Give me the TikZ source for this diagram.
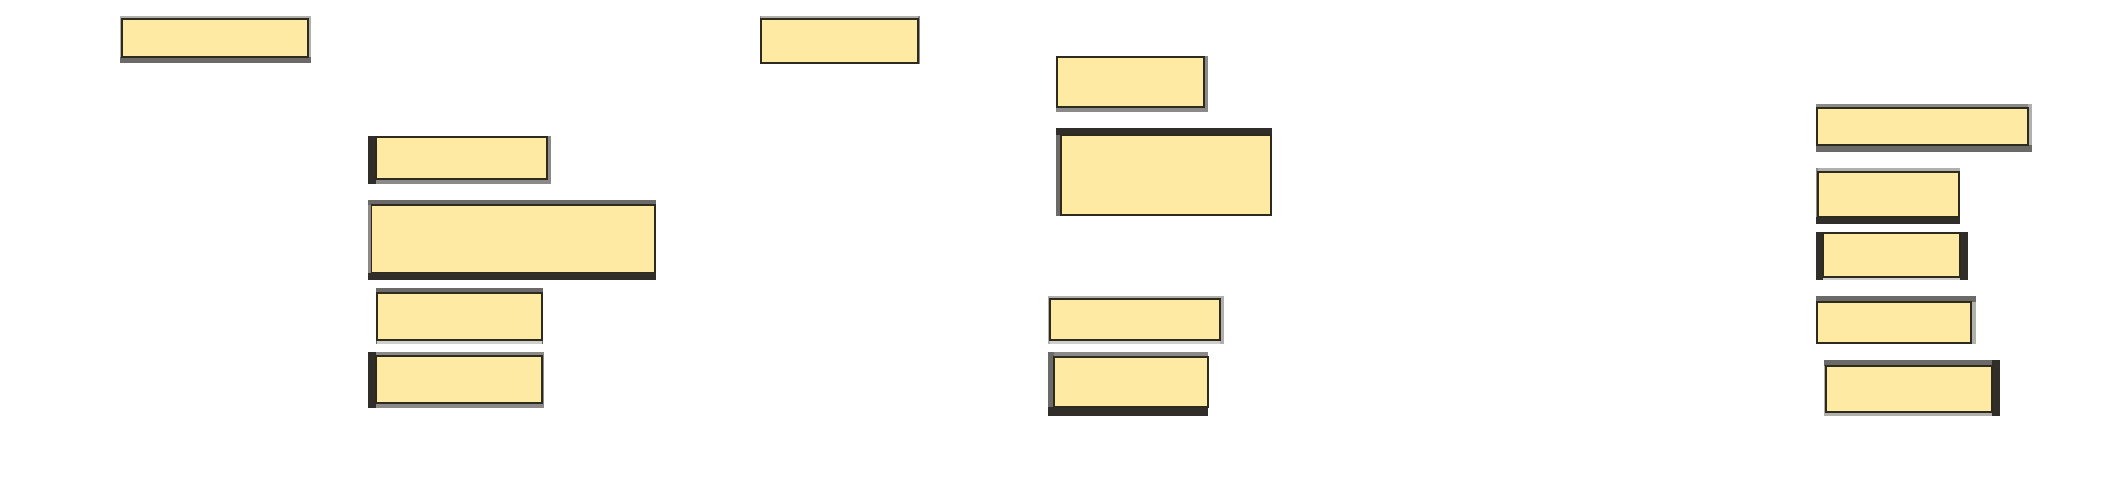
\documentclass[tikz,border=0pt]{standalone}
\usetikzlibrary{fit}
\definecolor{yfill}{HTML}{FEEAA3}
\definecolor{yline}{HTML}{2D2A1E}
\definecolor{gA}{HTML}{B2B0AD}
\definecolor{gB}{HTML}{8C8A88}
\definecolor{gC}{HTML}{6C6A68}
\definecolor{gD}{HTML}{312D28}
\definecolor{gL}{HTML}{D0CFCD}
\tikzset{
  ybox/.style={draw=yline, fill=yfill, line width=0.7pt, inner sep=0pt, outer sep=0pt},
  bA/.style={fill=gA}, bB/.style={fill=gB}, bC/.style={fill=gC}, bD/.style={fill=gD}, bL/.style={fill=gL}
}
% outer box corners
\newcommand\ob[4]{\def\ox{#1}\def\oy{#2}\def\oX{#3}\def\oY{#4}}
% bands: full-length side bands, inner rectangle given
\newcommand\tb[2]{\fill[#1] (\ox,\oy) rectangle (\oX,#2);}
\newcommand\bb[2]{\fill[#1] (\ox,#2) rectangle (\oX,\oY);}
\newcommand\lb[2]{\fill[#1] (\ox,\oy) rectangle (#2,\oY);}
\newcommand\rb[2]{\fill[#1] (#2,\oy) rectangle (\oX,\oY);}
\begin{document}
\begin{tikzpicture}[x=0.5pt,y=-0.5pt]
\useasboundingbox (0,0) rectangle (2118,488);
\fill[white] (0,0) rectangle (2118,488);

% A
\ob{120}{16}{311}{63}
\tb{bA}{19}\lb{bA}{122}\rb{bA}{308}\bb{bC}{57}
\node[ybox, fit={(122,19) (308,57)}] (a) {};
% B
\ob{368}{136}{551}{184}
\tb{bB}{137}\rb{bB}{547}\bb{bB}{179}\lb{bD}{376}
\node[ybox, fit={(376,137) (547,179)}] (b) {};
% C
\ob{368}{200}{656}{280}
\lb{bB}{371.5}\tb{bC}{205}\bb{bD}{272.5}
\node[ybox, fit={(371.5,205) (655,272.5)}] (c) {};
% D
\ob{376}{288}{543}{344}
\bb{bL}{340}\lb{bC}{377}\rb{bC}{542}\tb{bC}{293}
\node[ybox, fit={(377,293) (542,340)}] (d) {};
% E
\ob{368}{352}{544}{408}
\tb{bB}{356}\bb{bB}{403}\rb{bB}{542}\lb{bD}{376}
\node[ybox, fit={(376,356) (542,403)}] (e) {};
% F
\ob{760}{16}{920}{64}
\tb{bA}{19}\rb{bB}{918}\lb{bB}{761}
\node[ybox, fit={(761,19) (918,63)}] (f) {};
% G
\ob{1056}{56}{1208}{112}
\rb{bB}{1204}\bb{bB}{107}
\node[ybox, fit={(1057,57) (1204,107)}] (g) {};
% H
\ob{1056}{128}{1272}{216}
\lb{bC}{1061}\tb{bD}{135}
\node[ybox, fit={(1061,135) (1271,215)}] (h) {};
% I
\ob{1048}{296}{1224}{344}
\bb{bL}{340}\tb{bA}{299}\rb{bA}{1220}\lb{bA}{1050}
\node[ybox, fit={(1050,299) (1220,340)}] (i) {};
% J
\ob{1048}{352}{1208}{416}
\tb{bB}{357}\lb{bC}{1054}\bb{bD}{407}
\node[ybox, fit={(1054,357) (1208,407)}] (j) {};
% K
\ob{1816}{104}{2032}{152}
\tb{bB}{108}\rb{bA}{2028}\bb{bC}{145}
\node[ybox, fit={(1817,108) (2028,145)}] (k) {};
% L
\ob{1816}{168}{1960}{224}
\tb{bA}{172}\lb{bB}{1818}\bb{bD}{217}
\node[ybox, fit={(1818,172) (1959,217)}] (l) {};
% M
\ob{1816}{232}{1968}{280}
\bb{bL}{277}\lb{bD}{1823}\rb{bD}{1960}
\node[ybox, fit={(1823,233) (1960,277)}] (m) {};
% N
\ob{1816}{296}{1976}{344}
\rb{bA}{1971}\tb{bC}{302}
\node[ybox, fit={(1817,302) (1971,343)}] (n) {};
% O
\ob{1824}{360}{2000}{416}
\lb{bA}{1826}\bb{bA}{412}\tb{bC}{366}\rb{bD}{1992}
\node[ybox, fit={(1826,366) (1992,412)}] (o) {};
\end{tikzpicture}
\end{document}
